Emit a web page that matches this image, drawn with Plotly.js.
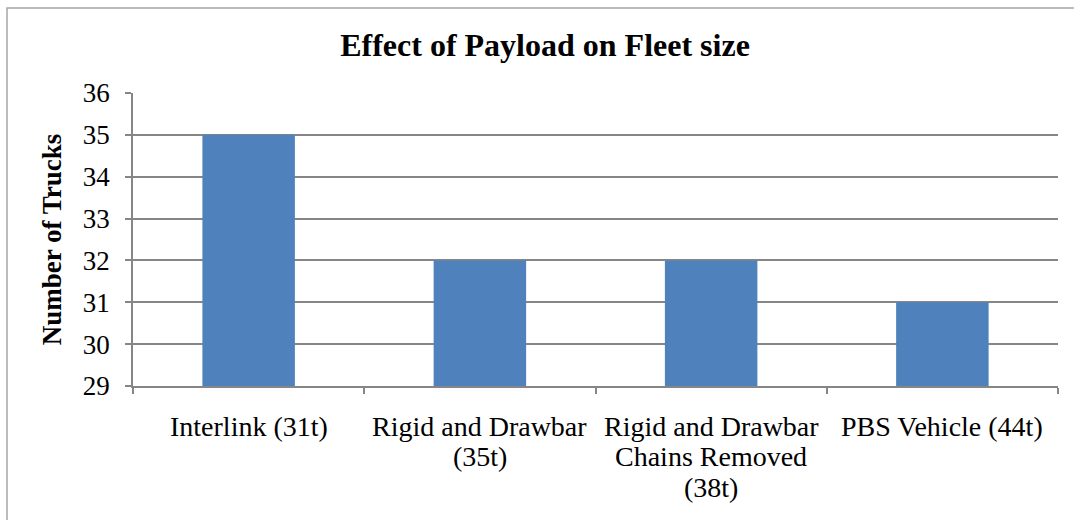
<!DOCTYPE html>
<html>
<head>
<meta charset="utf-8">
<script src="https://cdn.plot.ly/plotly-3.0.1.min.js"></script>
<style>html,body{margin:0;padding:0;background:#fff;}#chart{width:1074px;height:520px;}</style>
</head>
<body>
<div id="chart"></div>
<script>
const categories = ["Interlink (31t)", "Rigid and Drawbar<br>(35t)", "Rigid and Drawbar<br>Chains Removed<br>(38t)", "PBS Vehicle (44t)"];
const trucks = [35, 32, 32, 31];
const yTicks = [29, 30, 31, 32, 33, 34, 35, 36];

const serif = "'Liberation Serif', 'Times New Roman', serif";
const grey = "#868686";

const data = [{
  type: "bar",
  x: categories,
  y: trucks,
  base: 0,
  marker: {color: "#4F81BD"},
  hoverinfo: "x+y"
}];

// category labels drawn line by line under the axis (tighter line spacing, like the original)
const annotations = [];
categories.forEach(function (cat) {
  cat.split("<br>").forEach(function (line, j) {
    annotations.push({
      x: cat, xref: "x", y: 0, yref: "paper",
      text: line, showarrow: false,
      xanchor: "center", yanchor: "middle",
      yshift: -40 - 30.5 * j,
      font: {family: serif, size: 28, color: "#000"}
    });
  });
});

const layout = {
  width: 1074,
  height: 520,
  margin: {l: 133, r: 16, t: 93, b: 134},
  paper_bgcolor: "#fff",
  plot_bgcolor: "#fff",
  showlegend: false,
  bargap: 0.6,
  title: {
    text: "<b>Effect of Payload on Fleet size</b>",
    font: {family: serif, size: 32, color: "#000"},
    x: 545 / 1074, xref: "container", xanchor: "center",
    y: 0.913, yanchor: "middle"
  },
  xaxis: {
    type: "category",
    tickson: "boundaries",
    ticks: "outside",
    ticklen: 6,
    tickcolor: grey,
    tickwidth: 1.5,
    showgrid: false,
    showline: true,
    linecolor: grey,
    linewidth: 1.5,
    showticklabels: false
  },
  yaxis: {
    range: [29, 36],
    tickvals: yTicks,
    ticks: "outside",
    ticklen: 6,
    tickcolor: grey,
    tickwidth: 1.5,
    showgrid: true,
    gridcolor: grey,
    gridwidth: 1.5,
    showline: true,
    linecolor: grey,
    linewidth: 1.5,
    zeroline: false,
    tickfont: {family: serif, size: 27, color: "#000"},
    ticklabelstandoff: 10,
    title: {text: "<b>Number of Trucks</b>", font: {family: serif, size: 27, color: "#000"}, standoff: 13}
  },
  annotations: annotations,
  shapes: [{
    type: "rect", xref: "paper", yref: "paper",
    x0: -0.1362, x1: 1.03, y0: -0.5, y1: 1.2901,
    line: {color: "#a6a6a6", width: 1.5}, fillcolor: "rgba(0,0,0,0)", layer: "below"
  }]
};

Plotly.newPlot("chart", data, layout, {displayModeBar: false});
</script>
</body>
</html>
